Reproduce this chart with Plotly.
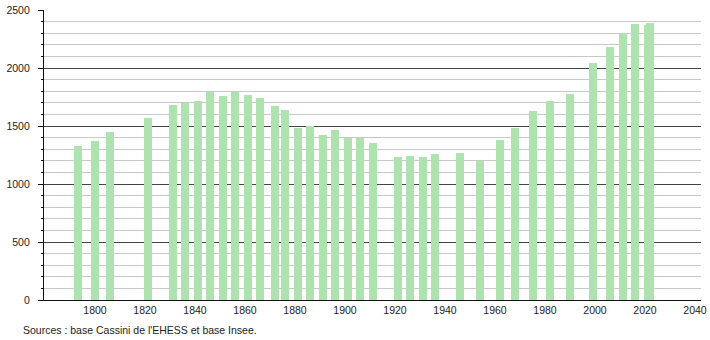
import plotly.graph_objects as go

years = [1793, 1800, 1806, 1821, 1831, 1836, 1841, 1846, 1851, 1856, 1861, 1866,
         1872, 1876, 1881, 1886, 1891, 1896, 1901, 1906, 1911, 1921, 1926, 1931,
         1936, 1946, 1954, 1962, 1968, 1975, 1982, 1990, 1999, 2006, 2011, 2016,
         2021, 2022]
population = [1330, 1371, 1451, 1572, 1684, 1695, 1716, 1790, 1762, 1790, 1770, 1744,
              1675, 1641, 1485, 1503, 1425, 1468, 1397, 1397, 1356, 1233, 1244, 1233,
              1261, 1270, 1201, 1381, 1483, 1629, 1716, 1776, 2046, 2178, 2302, 2379,
              2371, 2390]
x_ticks = [1800, 1820, 1840, 1860, 1880, 1900, 1920, 1940, 1960, 1980, 2000, 2020, 2040]
y_ticks = [0, 500, 1000, 1500, 2000, 2500]
source_text = "Sources : base Cassini de l'EHESS et base Insee."

FONT = "Liberation Sans, Arial, sans-serif"
FS = 10.5

fig = go.Figure()
fig.add_trace(go.Bar(
    x=years, y=population, width=3.2,
    marker=dict(color="rgb(174,226,174)", line=dict(width=0)),
    hoverinfo="x+y",
))

fig.update_layout(
    width=710, height=340,
    margin=dict(l=44, r=9, t=10, b=40, autoexpand=False),
    paper_bgcolor="white", plot_bgcolor="white",
    showlegend=False,
    font=dict(family=FONT, size=FS, color="#222"),
    bargap=0,
    xaxis=dict(
        range=[1779.6, 2042.4],
        tickvals=x_ticks,
        ticktext=[str(v) for v in x_ticks],
        showgrid=False, zeroline=False,
        showline=True, linecolor="#111", linewidth=1.3,
        ticks="", ticklen=0,
        tickfont=dict(family=FONT, size=FS, color="#222"),
        automargin=False,
        fixedrange=True,
    ),
    yaxis=dict(
        range=[0, 2500],
        tickvals=y_ticks,
        ticktext=[str(v) for v in y_ticks],
        showgrid=True, gridcolor="#444", gridwidth=1,
        zeroline=False,
        showline=True, linecolor="#111", linewidth=1.3,
        ticks="outside", ticklen=5, tickcolor="#111", tickwidth=1,
        tickfont=dict(family=FONT, size=FS, color="#222"),
        ticklabelstandoff=6,
        automargin=False,
        minor=dict(dtick=100, showgrid=True, gridcolor="#c8c8c8", gridwidth=1,
                   ticks="outside", ticklen=2, tickcolor="#111"),
        fixedrange=True,
    ),
    annotations=[dict(
        text=source_text, xref="paper", yref="paper",
        x=-23 / 657, y=-30 / 290, xanchor="left", yanchor="middle",
        showarrow=False, font=dict(family=FONT, size=FS, color="#222"),
    )],
)

fig.write_html("out.html")
